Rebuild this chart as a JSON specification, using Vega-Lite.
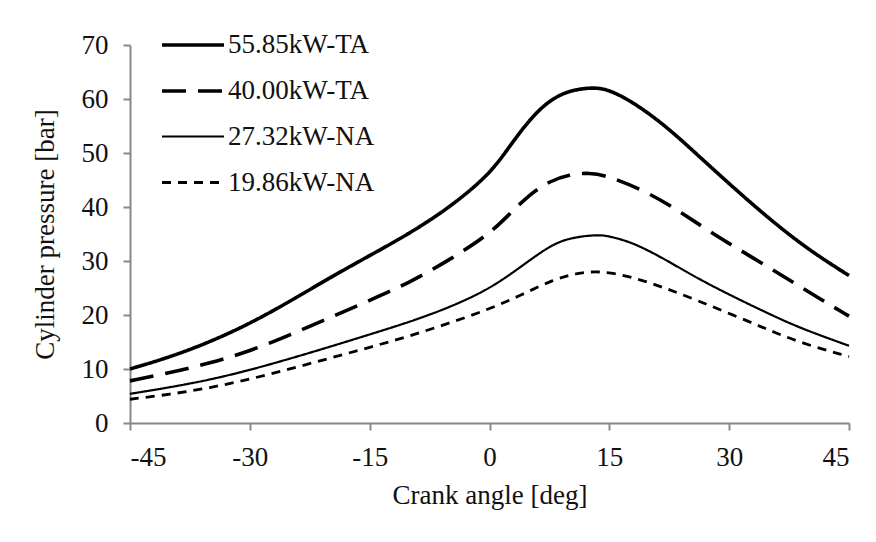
{
  "$schema": "https://vega.github.io/schema/vega-lite/v6.json",
  "width": 719,
  "height": 378,
  "autosize": "none",
  "padding": {"left": 130, "top": 45, "right": 27, "bottom": 119},
  "background": "white",
  "config": {
    "view": {"stroke": null},
    "font": "Liberation Serif",
    "axis": {
      "labelFont": "Liberation Serif",
      "titleFont": "Liberation Serif",
      "labelFontSize": 27,
      "titleFontSize": 27,
      "labelColor": "#111",
      "titleColor": "#111",
      "titleFontWeight": "normal",
      "domainColor": "#888",
      "domainWidth": 2,
      "tickColor": "#888",
      "tickWidth": 2,
      "tickSize": 7,
      "grid": false
    },
    "legend": {
      "labelFont": "Liberation Serif",
      "labelFontSize": 27,
      "labelColor": "#111"
    }
  },
  "data": {
    "values": [
      {"s": "55.85kW-TA", "a": -45, "p": 10.0},
      {"s": "55.85kW-TA", "a": -40, "p": 12.2},
      {"s": "55.85kW-TA", "a": -35, "p": 15.0},
      {"s": "55.85kW-TA", "a": -30, "p": 18.4},
      {"s": "55.85kW-TA", "a": -25, "p": 22.5},
      {"s": "55.85kW-TA", "a": -20, "p": 26.9},
      {"s": "55.85kW-TA", "a": -15, "p": 31.0},
      {"s": "55.85kW-TA", "a": -10, "p": 35.1},
      {"s": "55.85kW-TA", "a": -5, "p": 39.9},
      {"s": "55.85kW-TA", "a": 0, "p": 46.0},
      {"s": "55.85kW-TA", "a": 2.5, "p": 51.2},
      {"s": "55.85kW-TA", "a": 5, "p": 56.2},
      {"s": "55.85kW-TA", "a": 7.5, "p": 59.8},
      {"s": "55.85kW-TA", "a": 10, "p": 61.6},
      {"s": "55.85kW-TA", "a": 13, "p": 62.2},
      {"s": "55.85kW-TA", "a": 15, "p": 61.7},
      {"s": "55.85kW-TA", "a": 18, "p": 59.4},
      {"s": "55.85kW-TA", "a": 22, "p": 55.1},
      {"s": "55.85kW-TA", "a": 26, "p": 49.7},
      {"s": "55.85kW-TA", "a": 30, "p": 44.3},
      {"s": "55.85kW-TA", "a": 35, "p": 37.8},
      {"s": "55.85kW-TA", "a": 40, "p": 32.0},
      {"s": "55.85kW-TA", "a": 45, "p": 27.3},

      {"s": "40.00kW-TA", "a": -45, "p": 7.8},
      {"s": "40.00kW-TA", "a": -40, "p": 9.3},
      {"s": "40.00kW-TA", "a": -35, "p": 11.1},
      {"s": "40.00kW-TA", "a": -30, "p": 13.3},
      {"s": "40.00kW-TA", "a": -25, "p": 16.3},
      {"s": "40.00kW-TA", "a": -20, "p": 19.5},
      {"s": "40.00kW-TA", "a": -15, "p": 22.7},
      {"s": "40.00kW-TA", "a": -10, "p": 26.0},
      {"s": "40.00kW-TA", "a": -5, "p": 30.2},
      {"s": "40.00kW-TA", "a": 0, "p": 35.0},
      {"s": "40.00kW-TA", "a": 2.5, "p": 38.7},
      {"s": "40.00kW-TA", "a": 5, "p": 42.3},
      {"s": "40.00kW-TA", "a": 7.5, "p": 44.8},
      {"s": "40.00kW-TA", "a": 10, "p": 46.0},
      {"s": "40.00kW-TA", "a": 12.5, "p": 46.4},
      {"s": "40.00kW-TA", "a": 15, "p": 45.7},
      {"s": "40.00kW-TA", "a": 20, "p": 42.6},
      {"s": "40.00kW-TA", "a": 24, "p": 39.0},
      {"s": "40.00kW-TA", "a": 28, "p": 35.0},
      {"s": "40.00kW-TA", "a": 32.5, "p": 31.0},
      {"s": "40.00kW-TA", "a": 37, "p": 27.0},
      {"s": "40.00kW-TA", "a": 41, "p": 23.3},
      {"s": "40.00kW-TA", "a": 45, "p": 19.8},

      {"s": "27.32kW-NA", "a": -45, "p": 5.4},
      {"s": "27.32kW-NA", "a": -40, "p": 6.6},
      {"s": "27.32kW-NA", "a": -35, "p": 8.0},
      {"s": "27.32kW-NA", "a": -30, "p": 9.8},
      {"s": "27.32kW-NA", "a": -25, "p": 11.9},
      {"s": "27.32kW-NA", "a": -20, "p": 14.1},
      {"s": "27.32kW-NA", "a": -15, "p": 16.4},
      {"s": "27.32kW-NA", "a": -10, "p": 18.7},
      {"s": "27.32kW-NA", "a": -5, "p": 21.4},
      {"s": "27.32kW-NA", "a": 0, "p": 24.8},
      {"s": "27.32kW-NA", "a": 4, "p": 29.0},
      {"s": "27.32kW-NA", "a": 7.5, "p": 32.8},
      {"s": "27.32kW-NA", "a": 10, "p": 34.3},
      {"s": "27.32kW-NA", "a": 13.5, "p": 34.9},
      {"s": "27.32kW-NA", "a": 15, "p": 34.6},
      {"s": "27.32kW-NA", "a": 18, "p": 33.4},
      {"s": "27.32kW-NA", "a": 22, "p": 30.3},
      {"s": "27.32kW-NA", "a": 26, "p": 26.8},
      {"s": "27.32kW-NA", "a": 30.5, "p": 23.4},
      {"s": "27.32kW-NA", "a": 35, "p": 20.2},
      {"s": "27.32kW-NA", "a": 39, "p": 17.5},
      {"s": "27.32kW-NA", "a": 45, "p": 14.3},

      {"s": "19.86kW-NA", "a": -45, "p": 4.4},
      {"s": "19.86kW-NA", "a": -40, "p": 5.3},
      {"s": "19.86kW-NA", "a": -35, "p": 6.5},
      {"s": "19.86kW-NA", "a": -30, "p": 8.1},
      {"s": "19.86kW-NA", "a": -25, "p": 10.0},
      {"s": "19.86kW-NA", "a": -20, "p": 12.0},
      {"s": "19.86kW-NA", "a": -15, "p": 14.0},
      {"s": "19.86kW-NA", "a": -10, "p": 16.1},
      {"s": "19.86kW-NA", "a": -5, "p": 18.5},
      {"s": "19.86kW-NA", "a": 0, "p": 21.1},
      {"s": "19.86kW-NA", "a": 4, "p": 23.7},
      {"s": "19.86kW-NA", "a": 8, "p": 26.6},
      {"s": "19.86kW-NA", "a": 11, "p": 27.8},
      {"s": "19.86kW-NA", "a": 14, "p": 28.2},
      {"s": "19.86kW-NA", "a": 18, "p": 27.0},
      {"s": "19.86kW-NA", "a": 22, "p": 25.0},
      {"s": "19.86kW-NA", "a": 26, "p": 22.7},
      {"s": "19.86kW-NA", "a": 30.5, "p": 20.0},
      {"s": "19.86kW-NA", "a": 35, "p": 17.2},
      {"s": "19.86kW-NA", "a": 39, "p": 14.8},
      {"s": "19.86kW-NA", "a": 45, "p": 12.3}
    ]
  },
  "mark": {"type": "line", "interpolate": "basis", "color": "black"},
  "encoding": {
    "x": {
      "field": "a",
      "type": "quantitative",
      "scale": {"domain": [-45, 45], "nice": false},
      "axis": {
        "values": [-45, -30, -15, 0, 15, 30, 45],
        "labelExpr": "'' + datum.value",
        "title": "Crank angle [deg]",
        "labelPadding": 14,
        "titlePadding": 12
      }
    },
    "y": {
      "field": "p",
      "type": "quantitative",
      "scale": {"domain": [0, 70], "nice": false},
      "axis": {
        "values": [0, 10, 20, 30, 40, 50, 60, 70],
        "title": "Cylinder pressure [bar]",
        "labelPadding": 15,
        "titlePadding": 22
      }
    },
    "strokeDash": {
      "field": "s",
      "type": "nominal",
      "scale": {
        "domain": ["55.85kW-TA", "40.00kW-TA", "27.32kW-NA", "19.86kW-NA"],
        "range": [[1, 0], [24, 12], [1, 0], [9, 7]]
      },
      "legend": {
        "title": null,
        "orient": "none",
        "legendX": 30,
        "legendY": -33,
        "symbolType": "stroke",
        "symbolSize": 3844,
        "symbolStrokeColor": "black",
        "labelOffset": 2,
        "rowPadding": -19
      }
    },
    "strokeWidth": {
      "field": "s",
      "type": "nominal",
      "scale": {
        "type": "ordinal",
        "domain": ["55.85kW-TA", "40.00kW-TA", "27.32kW-NA", "19.86kW-NA"],
        "range": [3.6, 3.6, 2.2, 2.8]
      },
      "legend": {
        "title": null,
        "orient": "none",
        "legendX": 30,
        "legendY": -33,
        "symbolType": "stroke",
        "symbolSize": 3844,
        "symbolStrokeColor": "black",
        "labelOffset": 2,
        "rowPadding": -19
      }
    }
  }
}
